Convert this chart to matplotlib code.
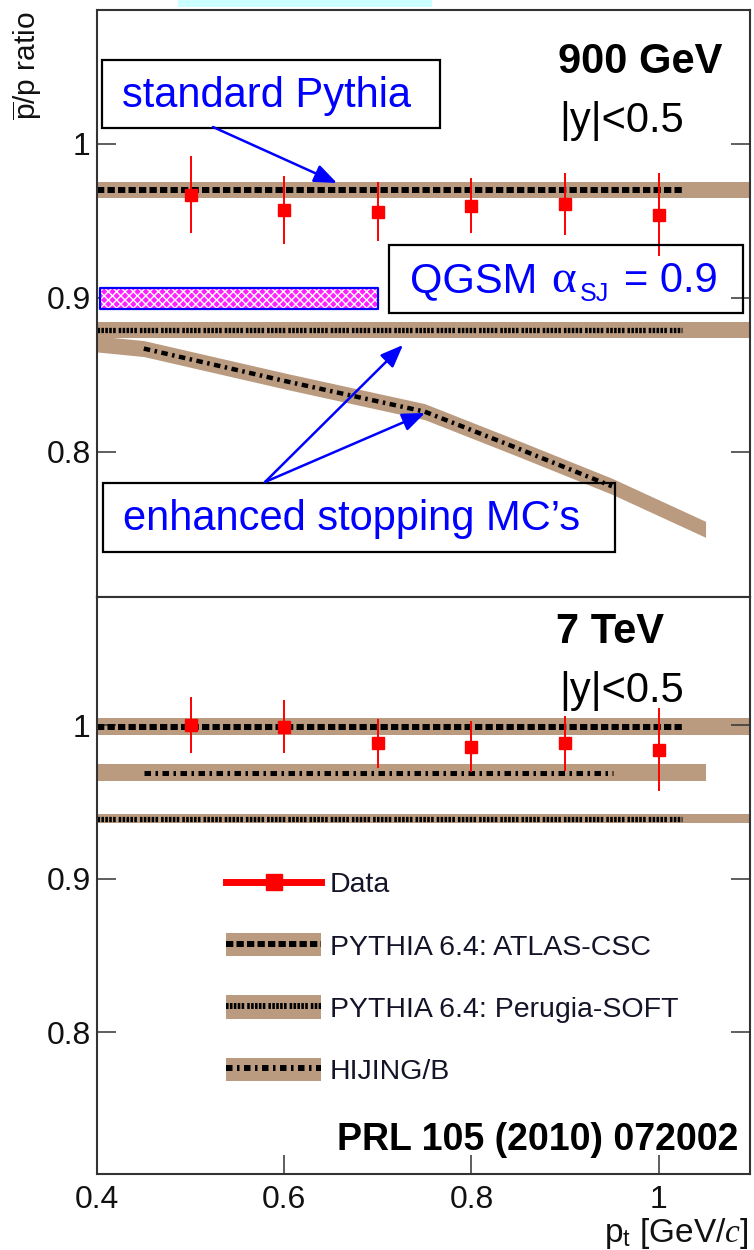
import matplotlib
matplotlib.use('Agg')
import matplotlib.pyplot as plt
import matplotlib.patches as mpatches
from matplotlib.lines import Line2D
from matplotlib.legend_handler import HandlerTuple
from matplotlib.ticker import FixedLocator, FuncFormatter

plt.rcParams['font.family'] = ['Liberation Sans', 'DejaVu Sans']
plt.rcParams['mathtext.fontset'] = 'custom'
plt.rcParams['mathtext.rm'] = 'Liberation Sans'
plt.rcParams['mathtext.it'] = 'Liberation Serif:italic'
plt.rcParams['mathtext.bf'] = 'Liberation Sans:bold'
plt.rcParams['lines.scale_dashes'] = False
plt.rcParams['hatch.linewidth'] = 1.0

W, H = 754, 1250

# ---------------- data ----------------
pt = [0.5, 0.6, 0.7, 0.8, 0.9, 1.0]
ratio_900 = [0.967, 0.957, 0.956, 0.960, 0.961, 0.954]
err_900 = [0.025, 0.022, 0.019, 0.018, 0.020, 0.027]
ratio_7000 = [1.000, 0.999, 0.988, 0.986, 0.988, 0.984]
err_7000 = [0.018, 0.017, 0.016, 0.0165, 0.018, 0.027]

# model bands (value, half width)
atlas_900, atlas_900_hw = 0.970, 0.0054
perugia_900, perugia_900_hw = 0.879, 0.0051
hijing_x_900 = [0.40, 0.45, 0.60, 0.75, 0.85, 0.95, 1.05]
hijing_y_900 = [0.870, 0.867, 0.846, 0.826, 0.802, 0.7775, 0.7495]
hijing_900_hw = 0.0052

atlas_7000, atlas_7000_hw = 0.999, 0.0053
hijing_7000, hijing_7000_hw = 0.969, 0.0054
perugia_7000, perugia_7000_hw = 0.939, 0.0030

qgsm_x = [0.403, 0.700]
qgsm_lo, qgsm_hi = 0.8925, 0.9065

band_x = [0.4, 1.1]
model_line_x = [0.4, 1.025]
hijing_band_x = [0.4, 1.05]
hijing_line_x = [0.45, 0.951]

xticks = [0.4, 0.6, 0.8, 1.0]
yticks = [0.8, 0.9, 1.0]
legend_labels = ['Data', 'PYTHIA 6.4: ATLAS-CSC', 'PYTHIA 6.4: Perugia-SOFT', 'HIJING/B']

# ---------------- styles ----------------
TAN = '#bb9b80'
px = 0.72  # points per pixel at dpi 100
ATLAS_LS = (0, (7.3 * px, 3.2 * px))
PERUGIA_LS = (0, tuple(v * px for v in [2.6, 1.3, 2.6, 1.3, 2.6, 1.3, 2.6, 1.3, 2.6, 3.0]))
HIJING_LS = (0, (6.5 * px, 4.5 * px, 2.5 * px, 4.5 * px))


def fx(x):
    return x / W


def fy(y):
    return 1 - y / H


fig = plt.figure(figsize=(W / 100, H / 100), dpi=100)
L, R = 97, 750
ax1 = fig.add_axes([fx(L), fy(597), (R - L) / W, (597 - 10) / H])
ax2 = fig.add_axes([fx(L), fy(1174), (R - L) / W, (1174 - 597) / H])

fig.patches.append(mpatches.Rectangle((fx(178), fy(7)), (432 - 178) / W, 7 / H,
                                      transform=fig.transFigure, color='#ccffff', lw=0))

for ax in (ax1, ax2):
    ax.set_xlim(0.4, 1.0975)
    for s in ax.spines.values():
        s.set_linewidth(1.5)
        s.set_color('#333333')
    ax.yaxis.set_major_locator(FixedLocator(yticks))
    ax.yaxis.set_major_formatter(FuncFormatter(lambda v, _: '%g' % v))
    ax.tick_params(axis='y', which='major', direction='in', left=True, right=True,
                   length=14, width=1.1, labelsize=23, pad=4.5, colors='#333333',
                   labelcolor='#111111')
    ax.tick_params(axis='y', which='minor', left=False, right=False)

ax1.set_ylim(0.7055, 1.0871)
ax2.set_ylim(0.7075, 1.0834)
ax1.tick_params(axis='x', which='both', bottom=False, top=False, labelbottom=False)
ax2.xaxis.set_major_locator(FixedLocator(xticks))
ax2.xaxis.set_major_formatter(FuncFormatter(lambda v, _: '%g' % v))
ax2.tick_params(axis='x', which='major', direction='in', bottom=True, top=False,
                length=14, width=1.1, labelsize=23, pad=8, colors='#333333',
                labelcolor='#111111')
ax2.tick_params(axis='x', which='minor', bottom=False, top=False)

# ---------------- top panel: 900 GeV ----------------
ax1.fill_between(band_x, atlas_900 - atlas_900_hw, atlas_900 + atlas_900_hw, color=TAN, lw=0, zorder=1)
ax1.fill_between(band_x, perugia_900 - perugia_900_hw, perugia_900 + perugia_900_hw, color=TAN, lw=0, zorder=1)
ax1.fill_between(hijing_x_900, [v - hijing_900_hw for v in hijing_y_900],
                 [v + hijing_900_hw for v in hijing_y_900], color=TAN, lw=0, zorder=1)
ax1.plot(model_line_x, [atlas_900] * 2, color='black', lw=4.3, ls=ATLAS_LS, dash_capstyle='butt', zorder=2)
ax1.plot(model_line_x, [perugia_900] * 2, color='black', lw=3.8, ls=PERUGIA_LS, dash_capstyle='butt', zorder=2)
ax1.plot(hijing_x_900[1:-1], hijing_y_900[1:-1], color='black', lw=3.2, ls=HIJING_LS,
         dash_capstyle='butt', zorder=2)

ax1.fill_between(qgsm_x, qgsm_lo, qgsm_hi, facecolor='#ff20ff', edgecolor='white', hatch='xxxx',
                 lw=0, zorder=2)
ax1.fill_between(qgsm_x, qgsm_lo, qgsm_hi, facecolor='none', edgecolor='#0000ff', lw=1.6, zorder=2)

ax1.errorbar(pt, ratio_900, yerr=err_900, fmt='s', color='#ff0000', ms=8.5, mec='#ff0000',
             elinewidth=1.4, capsize=0, zorder=6)

# ---------------- bottom panel: 7 TeV ----------------
ax2.fill_between(band_x, atlas_7000 - atlas_7000_hw, atlas_7000 + atlas_7000_hw, color=TAN, lw=0, zorder=1)
ax2.fill_between(hijing_band_x, hijing_7000 - hijing_7000_hw, hijing_7000 + hijing_7000_hw, color=TAN, lw=0, zorder=1)
ax2.fill_between(band_x, perugia_7000 - perugia_7000_hw, perugia_7000 + perugia_7000_hw, color=TAN, lw=0, zorder=1)
ax2.plot(model_line_x, [atlas_7000] * 2, color='black', lw=4.3, ls=ATLAS_LS, dash_capstyle='butt', zorder=2)
ax2.plot(hijing_line_x, [hijing_7000] * 2, color='black', lw=3.6, ls=HIJING_LS, dash_capstyle='butt', zorder=2)
ax2.plot(model_line_x, [perugia_7000] * 2, color='black', lw=3.8, ls=PERUGIA_LS, dash_capstyle='butt', zorder=2)
ax2.errorbar(pt, ratio_7000, yerr=err_7000, fmt='s', color='#ff0000', ms=8.5, mec='#ff0000',
             elinewidth=1.4, capsize=0, zorder=6)

# legend
band_patch = mpatches.Patch(facecolor=TAN, edgecolor='none')
h_data = Line2D([], [], color='#ff0000', lw=5, marker='s', ms=12, mfc='#ff0000', mec='#ff0000')
h_atlas = Line2D([], [], color='black', lw=4.3, ls=ATLAS_LS, dash_capstyle='butt')
h_perugia = Line2D([], [], color='black', lw=4.3, ls=PERUGIA_LS, dash_capstyle='butt')
h_hijing = Line2D([], [], color='black', lw=4.3, ls=HIJING_LS, dash_capstyle='butt')
leg = ax2.legend([h_data, (band_patch, h_atlas), (band_patch, h_perugia), (band_patch, h_hijing)],
                 legend_labels, handler_map={tuple: HandlerTuple(ndivide=1)},
                 loc='upper left', bbox_to_anchor=(fx(226), fy(871)), bbox_transform=fig.transFigure,
                 frameon=False, fontsize=20.5, handlelength=3.34, handleheight=0.88,
                 handletextpad=0.3, labelspacing=1.22, borderpad=0, borderaxespad=0, numpoints=1)
for t in leg.get_texts():
    t.set_color('#141428')

# ---------------- texts ----------------
fig.text(fx(28), fy(11), r'$\overline{\mathrm{p}}$/p ratio', rotation=90, ha='center', va='top',
         fontsize=21.5, color='#111111')
fig.text(fx(749), fy(1242), r'p$_{\mathrm{t}}$ [GeV/$\mathit{c}$]', ha='right', va='baseline',
         fontsize=24, color='#111111')

fig.text(fx(558), fy(73.3), '900 GeV', fontsize=30, fontweight='bold', ha='left', va='baseline')
fig.text(fx(559), fy(131.7), '|y|<0.5', fontsize=30, ha='left', va='baseline')
fig.text(fx(556), fy(642.7), '7 TeV', fontsize=30, fontweight='bold', ha='left', va='baseline')
fig.text(fx(559), fy(701.7), '|y|<0.5', fontsize=30, ha='left', va='baseline')
fig.text(fx(738), fy(1150), 'PRL 105 (2010) 072002', fontsize=27, fontweight='bold', ha='right',
         va='baseline')


def box(x0, y0, x1, y1):
    fig.add_artist(mpatches.Rectangle((fx(x0), fy(y1)), (x1 - x0) / W, (y1 - y0) / H,
                                      transform=fig.transFigure, fill=False, ec='black', lw=1.6,
                                      zorder=7))


def arrow(x0, y0, x1, y1):
    fig.add_artist(mpatches.FancyArrowPatch((fx(x0), fy(y0)), (fx(x1), fy(y1)),
                                            transform=fig.transFigure,
                                            arrowstyle='-|>,head_length=0.55,head_width=0.22',
                                            mutation_scale=25, color='#0000ff', lw=1.8,
                                            shrinkA=0, shrinkB=0, zorder=8))


BLUE = '#0000ff'
box(102, 60, 440, 128)
fig.text(fx(122), fy(107), 'standard Pythia', fontsize=30, color=BLUE, ha='left', va='baseline')
arrow(213, 127, 337, 183)

box(389, 245, 743, 313)
fig.text(fx(410), fy(292.3), 'QGSM', fontsize=30, color=BLUE, ha='left', va='baseline')
fig.text(fx(551), fy(292.3), 'α', fontsize=34, color=BLUE, ha='left', va='baseline',
         family=['Liberation Serif', 'DejaVu Sans'])
fig.text(fx(580), fy(301), 'SJ', fontsize=18, color=BLUE, ha='left', va='baseline')
fig.text(fx(624), fy(292.3), '= 0.9', fontsize=30, color=BLUE, ha='left', va='baseline')

box(103, 483, 615, 552)
fig.text(fx(123), fy(530), 'enhanced stopping MC’s', fontsize=30, color=BLUE, ha='left', va='baseline')
arrow(265, 482, 403, 345)
arrow(265, 482, 425, 413)

fig.savefig('out.png', dpi=100)
